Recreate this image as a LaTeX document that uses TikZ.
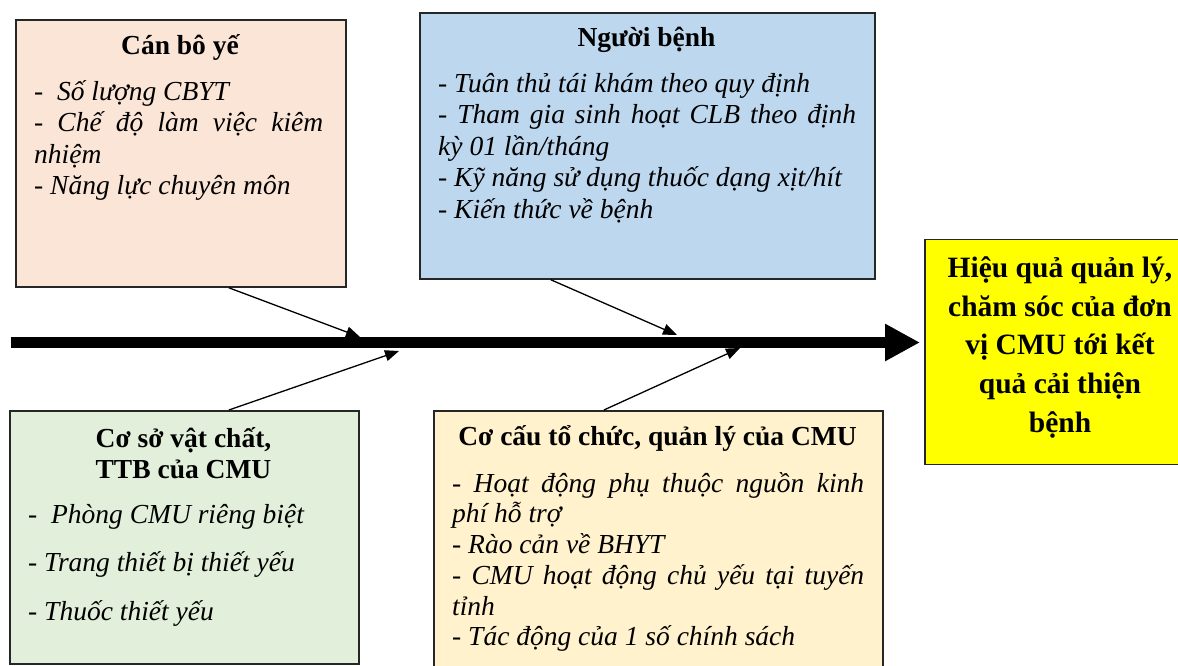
\documentclass[tikz,border=0pt]{standalone}
\usepackage{fontspec}
\setmainfont{Liberation Serif}
\usetikzlibrary{arrows.meta}
\definecolor{pinkbox}{HTML}{FBE5D6}
\definecolor{bluebox}{HTML}{BDD7EE}
\definecolor{greenbox}{HTML}{E2EFDA}
\definecolor{creambox}{HTML}{FFF2CC}
\definecolor{goalbox}{HTML}{FFFF00}
\tikzset{
  panel/.style={draw=black!85, line width=1.8pt, rectangle, anchor=north west, inner sep=0pt},
  head/.style={inner sep=0pt, font=\fontsize{27.5}{31}\selectfont\bfseries},
  items/.style={inner sep=0pt, anchor=north west, align=justify, font=\fontsize{27.5}{31.6}\selectfont\itshape},
  feed/.style={line width=1.3pt, -{Triangle[length=14pt,width=11pt]}},
  spine/.style={line width=11.6pt, -{Triangle[length=35pt,width=35pt]}}
}
\begin{document}
\begin{tikzpicture}[x=1pt,y=-1pt]
\clip (0,0) rectangle (1178,666);
\fill[white] (0,0) rectangle (1178,666);
% panels
\node[panel, fill=pinkbox, minimum width=330pt, minimum height=267pt] (b1) at (15,19) {};
\node[panel, fill=bluebox, minimum width=455pt, minimum height=266pt] (b2) at (419,12) {};
\node[panel, fill=greenbox, minimum width=349pt, minimum height=253pt] (b3) at (9,410) {};
\node[panel, fill=creambox, minimum width=449pt, minimum height=280pt] (b4) at (433,410) {};
\node[panel, fill=goalbox, minimum width=280pt, minimum height=225pt] (goal) at (924,238.5) {};
% texts box 1
\node[head, anchor=base] (h1) at (180,55) {Cán bô yế};
\node[items, text width=289pt] (t1) at (34,72) {\hyphenpenalty=10000\rule{0pt}{28pt}-\ \ Số lượng CBYT\par
- Chế độ làm việc kiêm\linebreak nhiệm\par
- Năng lực chuyên môn};
% texts box 2
\node[head, anchor=base] (h2) at (646.5,47) {Người bệnh};
\node[items, text width=418pt] (t2) at (438,64) {\hyphenpenalty=10000\rule{0pt}{28pt}- Tuân thủ tái khám theo quy định\par
- Tham gia sinh hoạt CLB theo định\linebreak kỳ 01 lần/tháng\par
- Kỹ năng sử dụng thuốc dạng xịt/hít\par
- Kiến thức về bệnh};
% texts box 3
\node[head, anchor=north, align=center] (h3) at (183.5,419) {\rule{0pt}{28pt}Cơ sở vật chất,\\TTB của CMU};
\node[inner sep=0pt, anchor=north west, align=left, font=\fontsize{27.5}{48.5}\selectfont\itshape] (t3) at (28,495) {\rule{0pt}{28pt}-\ \ Phòng CMU riêng biệt\\
- Trang thiết bị thiết yếu\\
- Thuốc thiết yếu};
% texts box 4
\node[head, anchor=base] (h4) at (657.5,445) {Cơ cấu tổ chức, quản lý của CMU};
\node[items, text width=412pt, font=\fontsize{27.5}{30.7}\selectfont\itshape] (t4) at (452,464) {\hyphenpenalty=10000\rule{0pt}{28pt}- Hoạt động phụ thuộc nguồn kinh\linebreak phí hỗ trợ\par
- Rào cản về BHYT\par
- CMU hoạt động chủ yếu tại tuyến\linebreak tỉnh\par
- Tác động của 1 số chính sách};
% goal text
\node[inner sep=0pt, anchor=north, align=center, font=\fontsize{29.5}{38.8}\selectfont\bfseries] (g) at (1060,247) {\rule{0pt}{30pt}Hiệu quả quản lý,\\chăm sóc của đơn\\vị CMU tới kết\\quả cải thiện\\bệnh};
% spine
\coordinate (s0) at (11,342.5);
\draw[spine, shorten >=4pt] (s0) -- (s0 -| goal.west);
% feeders
\coordinate (e1) at (360,337);
\coordinate (e2) at (677,335);
\coordinate (e3) at (399,351);
\coordinate (e4) at (740,348);
\draw[feed] ([xshift=48pt]b1.south) -- (e1);
\draw[feed] ([xshift=-96.5pt]b2.south) -- (e2);
\draw[feed] ([xshift=44.5pt]b3.north) -- (e3);
\draw[feed] ([xshift=-54.5pt]b4.north) -- (e4);
\end{tikzpicture}
\end{document}
